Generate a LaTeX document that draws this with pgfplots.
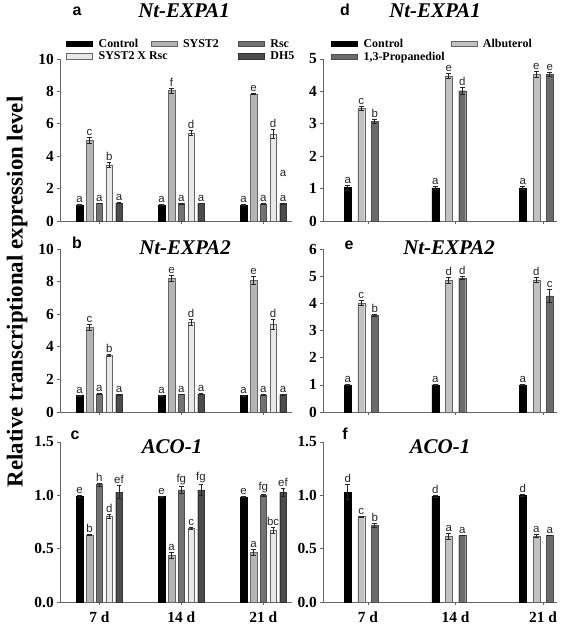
\documentclass[border=0pt]{standalone}
\usepackage{pgfplots}
\pgfplotsset{compat=1.18}
\usepackage{pgfplotstable}
\usepackage{fontspec}
\setmainfont{Liberation Serif}
\newfontfamily\arialf{Liberation Sans}

\definecolor{gS}{gray}{0.71}
\definecolor{gR}{gray}{0.45}
\definecolor{gX}{gray}{0.91}
\definecolor{gD}{gray}{0.30}
\definecolor{gA}{gray}{0.76}
\definecolor{gP}{gray}{0.42}

\pgfplotstableread{
g c ce cl s se sl r re rl m me ml d de dl
1 1.00 0.02 a 4.98 0.18 c 1.10 0.02 a 3.47 0.13 b 1.12 0.02 a
2 1.00 0.02 a 8.05 0.14 f 1.08 0.02 a 5.45 0.15 d 1.09 0.02 a
3 1.00 0.02 a 7.83 0.04 e 1.06 0.02 a 5.37 0.28 d 1.08 0.02 a
}\tabA
\pgfplotstableread{
g c ce cl s se sl r re rl m me ml d de dl
1 1.00 0.02 a 5.22 0.18 c 1.10 0.02 a 3.48 0.07 b 1.07 0.02 a
2 1.00 0.02 a 8.20 0.20 e 1.08 0.02 a 5.50 0.20 d 1.10 0.02 a
3 1.00 0.02 a 8.08 0.25 e 1.05 0.02 a 5.38 0.30 d 1.07 0.02 a
}\tabB
\pgfplotstableread{
g c ce cl s se sl r re rl m me ml d de dl
1 0.99 0.010 e 0.630 0.005 b 1.10 0.015 h 0.80 0.02 d 1.03 0.06 ef
2 0.99 0.005 e 0.440 0.030 a 1.05 0.030 fg 0.69 0.01 c 1.05 0.05 fg
3 0.985 0.005 e 0.465 0.030 a 1.00 0.010 fg 0.67 0.03 bc 1.03 0.04 ef
}\tabC
\pgfplotstableread{
g c ce cl a ae al p pe pl
1 1.03 0.08 a 3.48 0.06 c 3.08 0.07 b
2 1.02 0.05 a 4.48 0.08 e 4.02 0.10 d
3 1.02 0.05 a 4.53 0.08 e 4.53 0.07 e
}\tabD
\pgfplotstableread{
g c ce cl a ae al p pe pl
1 1.00 0.01 a 4.02 0.10 c 3.55 0.03 b
2 1.00 0.02 a 4.85 0.10 d 4.93 0.05 d
3 1.00 0.01 a 4.86 0.08 d 4.27 0.25 c
}\tabE
\pgfplotstableread{
g c ce cl a ae al p pe pl
1 1.03 0.07 d 0.800 0.005 c 0.720 0.020 b
2 0.99 0.01 d 0.615 0.030 a 0.625 0.002 a
3 1.00 0.01 d 0.620 0.010 a 0.625 0.002 a
}\tabF

\pgfplotsset{
  panel/.style={scale only axis, anchor=south west,
    axis x line*=bottom, axis y line*=left, xtick={1,2,3},
    tick align=outside, major tick length=3bp, enlargelimits=false, clip=false,
    axis line style={black!60, line width=0.6bp},
    tick style={black!60, line width=0.6bp},
    /pgf/number format/assume math mode=true,
    yticklabel style={font=\bfseries\fontsize{15.5}{15.5}\selectfont, inner xsep=3bp},
    xticklabel style={font=\bfseries\fontsize{15.5}{15.5}\selectfont, yshift=-3bp},
    legend cell align=left,
    legend style={draw=none, fill=none, inner sep=0pt, row sep=3bp,
      font=\bfseries\fontsize{12}{12}\selectfont, anchor=north west,
      nodes={inner sep=0pt},
      /tikz/every odd column/.append style={column sep=6bp},
      /tikz/every even column/.append style={column sep=6bp}}},
  leftp/.style={panel, width=232bp, xmin=0.52, xmax=3.35},
  rightp/.style={panel, width=234bp, xmin=0.486, xmax=3.16},
  mybar/.style={ybar, bar width=0.08, bar shift=0pt, line width=0.4bp, forget plot,
    /pgfplots/error bars/y dir=both, /pgfplots/error bars/y explicit,
    /pgfplots/error bars/error bar style={line width=0.6bp, draw=black!85},
    /pgfplots/error bars/error mark options={rotate=90, mark size=2.3bp, line width=0.6bp, draw=black!85}},
  lab/.style={draw=none, mark=none, forget plot, nodes near coords, point meta=explicit symbolic,
    nodes near coords style={font=\arialf\fontsize{11.5}{11.5}\selectfont, anchor=south, inner sep=1.5bp, text=black!85}},
  lgbox/.style={legend image code/.code={\draw[##1] (0bp,-2.8bp) rectangle (26bp,2.8bp);}},
}

\newcommand{\bars}[6]{%
  \addplot[mybar,#6] table[x expr=\thisrow{g}+#2, y=#3, y error=#4]{#1};
  \addplot[lab] table[x expr=\thisrow{g}+#2, y expr=\thisrow{#3}+\thisrow{#4}, meta=#5]{#1};
}

\begin{document}
\begin{tikzpicture}
\useasboundingbox (0,0) rectangle (567bp,629bp);

% ---- panel a
\begin{axis}[leftp, at={(60bp,408bp)}, height=162bp, ymin=0, ymax=10,
  ytick={0,2,4,6,8,10}, xticklabels={,,}, legend columns=3,
  legend style={at={(0.026,1.125)}}]
\addlegendimage{lgbox, fill=black, draw=black}\addlegendentry{\makebox[46bp][l]{Control}}
\addlegendimage{lgbox, fill=gS, draw=black!60}\addlegendentry{\makebox[49bp][l]{SYST2}}
\addlegendimage{lgbox, fill=gR, draw=black!70}\addlegendentry{Rsc}
\addlegendimage{lgbox, fill=gX, draw=black!60}\addlegendentry{\makebox[46bp][l]{SYST2 X Rsc}}
\addlegendimage{empty legend}\addlegendentry{}
\addlegendimage{lgbox, fill=gD, draw=black!80}\addlegendentry{DH5}
\bars{\tabA}{-0.24}{c}{ce}{cl}{fill=black, draw=black}
\bars{\tabA}{-0.12}{s}{se}{sl}{fill=gS, draw=black!60}
\bars{\tabA}{0}{r}{re}{rl}{fill=gR, draw=black!70}
\bars{\tabA}{0.12}{m}{me}{ml}{fill=gX, draw=black!60}
\bars{\tabA}{0.24}{d}{de}{dl}{fill=gD, draw=black!80}
\addplot[lab] coordinates {(3.24,2.65) [a]};
\end{axis}

% ---- panel b
\begin{axis}[leftp, at={(60bp,217bp)}, height=163bp, ymin=0, ymax=10,
  ytick={0,2,4,6,8,10}, xticklabels={,,}]
\bars{\tabB}{-0.24}{c}{ce}{cl}{fill=black, draw=black}
\bars{\tabB}{-0.12}{s}{se}{sl}{fill=gS, draw=black!60}
\bars{\tabB}{0}{r}{re}{rl}{fill=gR, draw=black!70}
\bars{\tabB}{0.12}{m}{me}{ml}{fill=gX, draw=black!60}
\bars{\tabB}{0.24}{d}{de}{dl}{fill=gD, draw=black!80}
\end{axis}

% ---- panel c
\begin{axis}[leftp, at={(60bp,27bp)}, height=160bp, ymin=0, ymax=1.5,
  ytick={0,0.5,1,1.5}, xticklabels={7 d,14 d,21 d},
  /pgf/number format/fixed, /pgf/number format/fixed zerofill, /pgf/number format/precision=1]
\bars{\tabC}{-0.24}{c}{ce}{cl}{fill=black, draw=black}
\bars{\tabC}{-0.12}{s}{se}{sl}{fill=gS, draw=black!60}
\bars{\tabC}{0}{r}{re}{rl}{fill=gR, draw=black!70}
\bars{\tabC}{0.12}{m}{me}{ml}{fill=gX, draw=black!60}
\bars{\tabC}{0.24}{d}{de}{dl}{fill=gD, draw=black!80}
\end{axis}

% ---- panel d
\begin{axis}[rightp, at={(323bp,408bp)}, height=162bp, ymin=0, ymax=5,
  ytick={0,1,2,3,4,5}, xticklabels={,,}, legend columns=2,
  legend style={at={(0.034,1.125)}}]
\addlegendimage{lgbox, fill=black, draw=black}\addlegendentry{\makebox[81bp][l]{Control}}
\addlegendimage{lgbox, fill=gA, draw=black!60}\addlegendentry{Albuterol}
\addlegendimage{lgbox, fill=gP, draw=black!70}\addlegendentry{\makebox[81bp][l]{1,3-Propanediol}}
\bars{\tabD}{-0.231}{c}{ce}{cl}{fill=black, draw=black}
\bars{\tabD}{-0.077}{a}{ae}{al}{fill=gA, draw=black!60}
\bars{\tabD}{0.077}{p}{pe}{pl}{fill=gP, draw=black!70}
\end{axis}

% ---- panel e
\begin{axis}[rightp, at={(323bp,217bp)}, height=163bp, ymin=0, ymax=6,
  ytick={0,1,2,3,4,5,6}, xticklabels={,,}]
\bars{\tabE}{-0.231}{c}{ce}{cl}{fill=black, draw=black}
\bars{\tabE}{-0.077}{a}{ae}{al}{fill=gA, draw=black!60}
\bars{\tabE}{0.077}{p}{pe}{pl}{fill=gP, draw=black!70}
\end{axis}

% ---- panel f
\begin{axis}[rightp, at={(323bp,27bp)}, height=160bp, ymin=0, ymax=1.5,
  ytick={0,0.5,1,1.5}, xticklabels={7 d,14 d,21 d},
  /pgf/number format/fixed, /pgf/number format/fixed zerofill, /pgf/number format/precision=1]
\bars{\tabF}{-0.231}{c}{ce}{cl}{fill=black, draw=black}
\bars{\tabF}{-0.077}{a}{ae}{al}{fill=gA, draw=black!60}
\bars{\tabF}{0.077}{p}{pe}{pl}{fill=gP, draw=black!70}
\end{axis}

% ---- titles
\tikzset{plet/.style={font=\arialf\bfseries\fontsize{16}{16}\selectfont},
         gtit/.style={font=\bfseries\itshape\fontsize{21}{21}\selectfont}}
\node[plet] at (77bp,618bp) {a};
\node[gtit] at (184bp,618bp) {Nt-EXPA1};
\node[plet] at (345bp,619bp) {d};
\node[gtit] at (435bp,618bp) {Nt-EXPA1};
\node[plet] at (77bp,386bp) {b};
\node[gtit] at (185bp,381bp) {Nt-EXPA2};
\node[plet] at (349bp,384bp) {e};
\node[gtit] at (449bp,381bp) {Nt-EXPA2};
\node[plet] at (75bp,194bp) {c};
\node[gtit] at (172bp,182bp) {ACO-1};
\node[plet] at (345bp,195bp) {f};
\node[gtit] at (440bp,182bp) {ACO-1};
\node[rotate=90, font=\bfseries\fontsize{23}{23}\selectfont] at (17bp,337bp)
  {Relative transcriptional expression level};
\end{tikzpicture}
\end{document}
